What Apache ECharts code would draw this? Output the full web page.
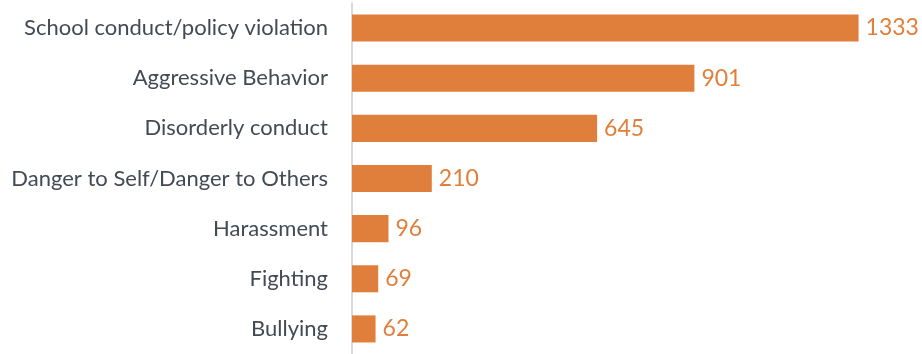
<!DOCTYPE html>
<html>
<head>
<meta charset="utf-8">
<script src="https://cdn.jsdelivr.net/npm/echarts@6/dist/echarts.min.js"></script>
<style>
  html, body { margin: 0; padding: 0; background: #ffffff; }
  #chart { width: 922px; height: 354px; }
</style>
</head>
<body>
<div id="chart"></div>
<script>
// Incident categories, listed top to bottom
var categories = [
  'School conduct/policy violation',
  'Aggressive Behavior',
  'Disorderly conduct',
  'Danger to Self/Danger to Others',
  'Harassment',
  'Fighting',
  'Bullying'
];
var counts = [1333, 901, 645, 210, 96, 69, 62];

var chart = echarts.init(document.getElementById('chart'));
chart.setOption({
  animation: false,
  grid: { left: 352, right: 38, top: 3, height: 353, containLabel: false },
  xAxis: {
    type: 'value',
    min: 0,
    max: 1400,
    show: false
  },
  yAxis: {
    type: 'category',
    inverse: true,
    data: categories,
    axisLine: { show: true, lineStyle: { color: '#c9ced6', width: 1.5 } },
    axisTick: { show: false },
    axisLabel: {
      color: '#434a54',
      fontFamily: 'Lato',
      fontSize: 22,
      margin: 24
    }
  },
  series: [{
    type: 'bar',
    data: counts,
    barCategoryGap: '46%',
    itemStyle: { color: '#e07f3c' },
    label: {
      show: true,
      position: 'right',
      distance: 7,
      color: '#e07f3c',
      fontFamily: 'Lato',
      fontSize: 23
    }
  }]
});
</script>
</body>
</html>
